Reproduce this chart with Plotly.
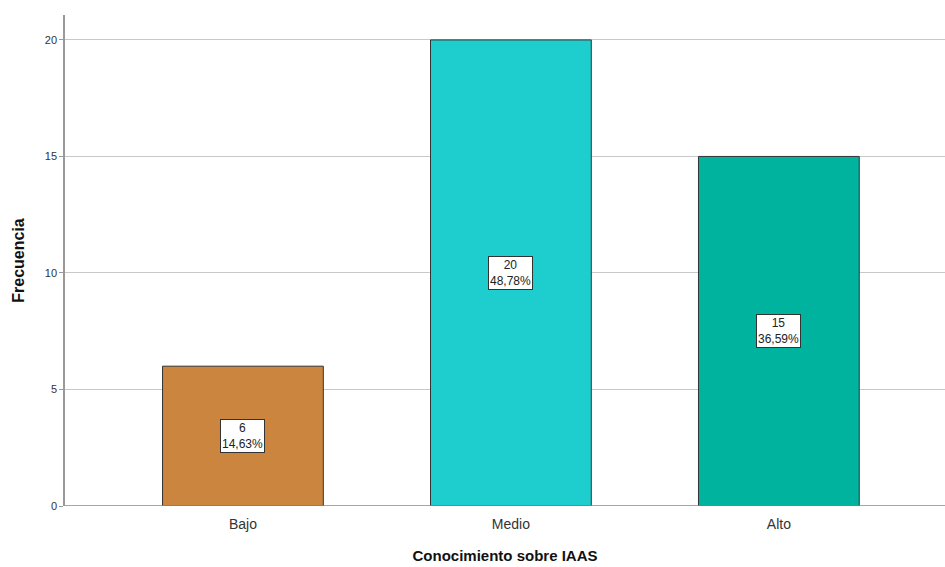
import plotly.graph_objects as go

# Frecuencias por nivel de conocimiento
categorias = ["Bajo", "Medio", "Alto"]
frecuencias = [6, 20, 15]
colores = ["#CC853F", "#1ECECE", "#00B39F"]

total = sum(frecuencias)
porcentajes = [f / total * 100 for f in frecuencias]

fig = go.Figure()
fig.add_trace(go.Bar(
    x=categorias,
    y=frecuencias,
    width=0.6,
    marker=dict(color=colores, line=dict(color="#333333", width=1)),
    hoverinfo="skip",
))

# Etiquetas de frecuencia y porcentaje en el centro de cada barra
for cat, f, p in zip(categorias, frecuencias, porcentajes):
    fig.add_annotation(
        x=cat, y=f / 2, xref="x", yref="y",
        text=f"{f}<br>{p:.2f}%".replace(".", ","),
        showarrow=False,
        font=dict(family="Arial, Liberation Sans, sans-serif", size=12, color="#222222"),
        bgcolor="white", bordercolor="#333333", borderwidth=1, borderpad=1,
        align="center",
    )

# Línea base a lo ancho de todo el gráfico
fig.add_shape(type="line", xref="paper", yref="y", x0=0, x1=1, y0=0, y1=0,
              line=dict(color="#888888", width=1.5), layer="above")

fig.update_layout(
    width=945, height=567,
    margin=dict(l=65, r=0, t=15, b=61),
    plot_bgcolor="white", paper_bgcolor="white",
    showlegend=False,
    font=dict(family="Arial, Liberation Sans, sans-serif", color="#222222"),
    xaxis=dict(
        range=[-0.664, 2.62],
        showgrid=False,
        ticks="outside", ticklen=5, tickcolor="rgba(0,0,0,0)",
        tickfont=dict(size=14, color="#333333"),
        title=dict(text="<b>Conocimiento sobre IAAS</b>", font=dict(size=15, color="#111111"), standoff=19),
        showline=False,
    ),
    yaxis=dict(
        range=[0, 21.07],
        tickvals=[0, 5, 10, 15, 20],
        showgrid=True, gridcolor="#c8c8c8", gridwidth=1,
        zeroline=False,
        ticks="outside", ticklen=4, tickcolor="#999999",
        tickfont=dict(size=11, color="#333333"),
        showline=True, linecolor="#999999", linewidth=1.5,
        title=dict(text="<b>Frecuencia</b>", font=dict(size=16, color="#111111"), standoff=16),
    ),
)

fig.write_html("out.html")
